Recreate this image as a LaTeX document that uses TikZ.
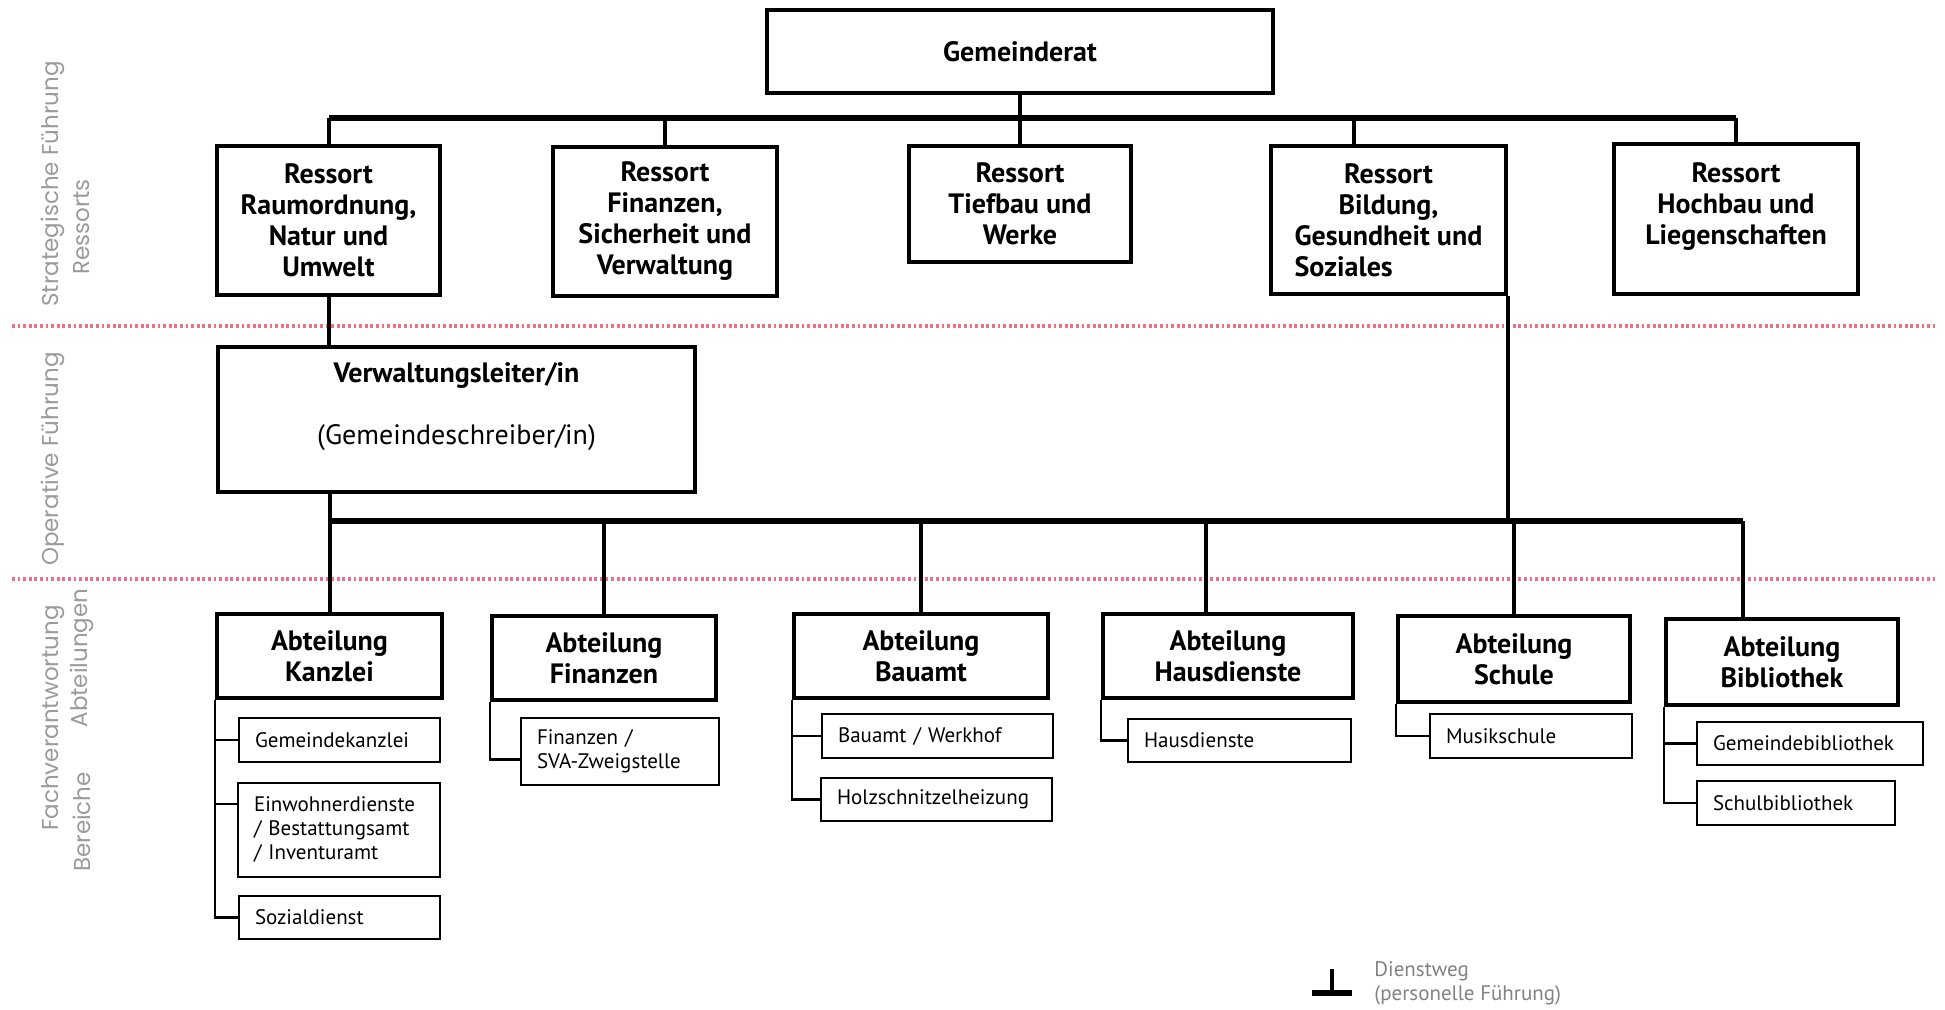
\documentclass[tikz,border=0pt]{standalone}
\usepackage{fontspec}
\setmainfont{PT Sans}
\newfontfamily\zonefont{Poppins}
\usetikzlibrary{positioning}
\definecolor{zonered}{RGB}{238,112,136}
\definecolor{zonegray}{RGB}{155,155,155}
\definecolor{leggray}{RGB}{130,130,130}

\tikzset{
  box/.style={draw, line width=2pt, align=center, inner sep=2pt, font=\bfseries\fontsize{14}{15.5}\selectfont},
  abtbox/.style={box, font=\bfseries\fontsize{14}{15.5}\selectfont},
  subbox/.style={draw, line width=1.35pt, align=left, inner xsep=8pt, inner ysep=2pt, text width=#1, font=\fontsize{10.5}{12}\selectfont},
  bus/.style={line width=2.6pt},
  stem/.style={line width=2pt},
  spine/.style={line width=1.35pt},
  zoneline/.style={zonered, line width=1.8pt, dash pattern=on 1.4pt off 1.4pt},
  zonelabel/.style={rotate=90, text=zonegray, inner sep=0pt, font=\zonefont\fontsize{11.5}{12}\selectfont},
}

\begin{document}
\begin{tikzpicture}[x=0.5pt, y=-0.5pt]
  \useasboundingbox (0,0) rectangle (1945,1010);

  % Zonen
  \draw[zoneline] (12,326) -- (1935,326);
  \draw[zoneline] (12,579) -- (1935,579);
  \node[zonelabel] (lstrat) at (53,184) {Strategische Führung};
  \node[zonelabel] (lres) at (82,227) {Ressorts};
  \node[zonelabel] (lop) at (53,459) {Operative Führung};
  \node[zonelabel] (lfach) at (53,718) {Fachverantwortung};
  \node[zonelabel] (labt) at (82,658) {Abteilungen};
  \node[zonelabel] (lber) at (82,822) {Bereiche};

  % Gemeinderat und Ressorts
  \node[box, minimum width=253pt, minimum height=41.5pt] (gr) at (1020,51.5) {Gemeinderat};
  \node[box, minimum width=111.5pt, minimum height=74.5pt] (r1) at (328.5,220.5) {Ressort\\Raumordnung,\\Natur und\\Umwelt};
  \node[box, minimum width=112pt, minimum height=74.5pt] (r2) at (665,221.5) {Ressort\\Finanzen,\\Sicherheit und\\Verwaltung};
  \node[box, minimum width=111pt, minimum height=58pt] (r3) at (1020,204) {Ressort\\Tiefbau und\\Werke};
  \node[box, minimum width=117.5pt, minimum height=74pt] (r4) at (1388.5,220) {Ressort\\Bildung,\\Gesundheit und\\\rlap{Soziales}\phantom{Gesundheit und}};
  \node[box, minimum width=122pt, minimum height=75pt] (r5) at (1736,219) {Ressort\\Hochbau und\\Liegenschaften\\~};

  % Verwaltung
  \node[box, minimum width=238.5pt, minimum height=72.5pt, font=\fontsize{14}{15.5}\selectfont] (vl) at (456.5,419.5) {\textbf{Verwaltungsleiter/in}\\~\\(Gemeindeschreiber/in)\\~};

  % Abteilungen
  \node[abtbox, minimum width=112.5pt, minimum height=42pt] (a1) at (329.5,656) {Abteilung\\Kanzlei};
  \node[abtbox, minimum width=112pt, minimum height=42pt] (a2) at (604,658) {Abteilung\\Finanzen};
  \node[abtbox, minimum width=127pt, minimum height=42pt] (a3) at (921,656) {Abteilung\\Bauamt};
  \node[abtbox, minimum width=125pt, minimum height=42pt] (a4) at (1228,656) {Abteilung\\Hausdienste};
  \node[abtbox, minimum width=116pt, minimum height=43pt] (a5) at (1514,659) {Abteilung\\Schule};
  \node[abtbox, minimum width=116pt, minimum height=43pt] (a6) at (1782,662) {Abteilung\\Bibliothek};

  % Bereiche
  \node[subbox=84.5pt, minimum height=22pt] (s11) at (339.5,740) {Gemeindekanzlei};
  \node[subbox=85pt, minimum height=47pt] (s12) at (339,830) {Einwohnerdienste\\/ Bestattungsamt\\/ Inventuramt};
  \node[subbox=84.5pt, minimum height=21.5pt] (s13) at (339.5,917.5) {Sozialdienst};
  \node[subbox=83pt, minimum height=33.5pt] (s21) at (620,751.5) {Finanzen /\\SVA-Zweigstelle};
  \node[subbox=99.5pt, minimum height=22pt] (s31) at (937.5,736) {Bauamt / Werkhof};
  \node[subbox=99.5pt, minimum height=21.5pt] (s32) at (936.5,799.5) {Holzschnitzelheizung};
  \node[subbox=95.5pt, minimum height=21.5pt] (s41) at (1239.5,740.5) {Hausdienste};
  \node[subbox=85pt, minimum height=22pt] (s51) at (1531,736) {Musikschule};
  \node[subbox=97pt, minimum height=21.5pt] (s61) at (1810,743.5) {Gemeindebibliothek};
  \node[subbox=83pt, minimum height=22pt] (s62) at (1796,803) {Schulbibliothek};

  % Hilfspunkte
  \coordinate (bus1) at (0,118);
  \coordinate (bus2) at (0,521);
  \coordinate (r4top) at ([xshift=-17.5pt]r4.north);
  \coordinate (a4top) at ([xshift=-11pt]a4.north);
  \coordinate (a6top) at ([xshift=-19.5pt]a6.north);
  \coordinate (s12in) at ([yshift=13pt]s12.west);
  \coordinate (s21in) at ([yshift=-4pt]s21.west);

  % Linien oben
  \draw[stem] (gr.south) -- (gr.south |- bus1);
  \draw[bus] (r1.north |- bus1) -- (r5.north |- bus1);
  \foreach \r in {r1,r2,r3,r5}
    \draw[stem] (\r.north |- bus1) -- (\r.north);
  \draw[stem] (r4top |- bus1) -- (r4top);

  % Linien Mitte
  \draw[stem] (r1.south) -- (r1.south |- vl.north);
  \draw[stem] (a1.north |- vl.south) -- (a1.north);
  \draw[stem] (r4.south east) -- (r4.south east |- bus2);
  \draw[bus] (a1.north |- bus2) -- (a6top |- bus2);
  \foreach \a in {a2,a3,a5}
    \draw[stem] (\a.north |- bus2) -- (\a.north);
  \draw[stem] (a4top |- bus2) -- (a4top);
  \draw[stem] (a6top |- bus2) -- (a6top);

  % Bereiche
  \draw[spine] (a1.south west) |- (s11.west);
  \draw[spine] (a1.south west) |- (s12in);
  \draw[spine] (a1.south west) |- (s13.west);
  \draw[spine] (a2.south west) |- (s21in);
  \draw[spine] (a3.south west) |- (s31.west);
  \draw[spine] (a3.south west) |- (s32.west);
  \draw[spine] (a4.south west) |- (s41.west);
  \draw[spine] (a5.south west) |- (s51.west);
  \draw[spine] (a6.south west) |- (s61.west);
  \draw[spine] (a6.south west) |- (s62.west);

  % Legende
  \coordinate (leg) at (1332,993);
  \draw[stem] (leg) -- ++(0,12pt);
  \draw[bus] ([xshift=-10pt]leg) -- ([xshift=10pt]leg);
  \node[anchor=west, align=left, inner sep=0pt, text=leggray, font=\fontsize{10.5}{12}\selectfont] (legtext) at (1374,983) {Dienstweg\\(personelle Führung)};
\end{tikzpicture}
\end{document}
